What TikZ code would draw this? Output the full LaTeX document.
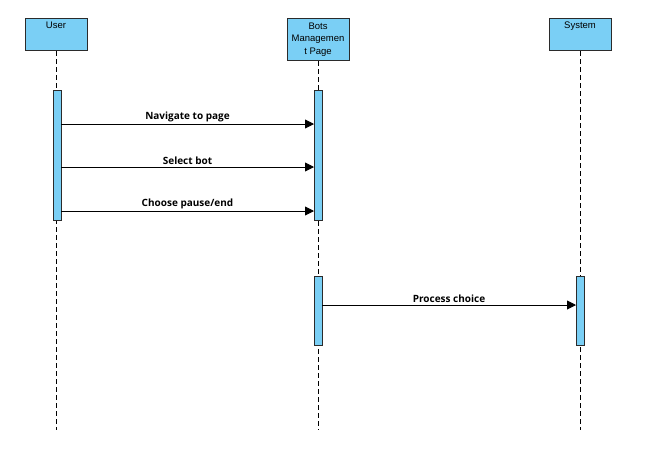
\documentclass[tikz,border=0pt]{standalone}
\usepackage{fontspec}
\setmainfont{Liberation Sans}
\newfontfamily\msgfont{Open Sans}
\usetikzlibrary{arrows.meta}
\definecolor{lifeblue}{HTML}{7ACFF5}
\definecolor{edgegray}{HTML}{2B2B2B}
\tikzset{
  actorbox/.style={draw=edgegray, fill=lifeblue, line width=1pt, minimum width=62pt,
    inner sep=1pt, align=center, font=\fontsize{9.5}{12.5}\selectfont},
  actbar/.style={draw=edgegray, fill=lifeblue, line width=0.9pt},
  lifeline/.style={draw=black, line width=0.9pt, dash pattern=on 5pt off 3pt},
  msg/.style={line width=0.9pt, -{Triangle[length=9pt,width=9pt]}},
  msglabel/.style={font=\msgfont\bfseries\fontsize{10}{12}\selectfont, above, inner sep=1.5pt}
}
\begin{document}
\begin{tikzpicture}[x=1pt, y=-1pt]
\useasboundingbox (0,0) rectangle (650,448);
% actors
\node [actorbox, minimum height=32pt, text height=8pt, text depth=20pt, anchor=north] (user) at (56,18) {User};
\node [actorbox, minimum height=42pt, anchor=north] (bots) at (318,18) {Bots\\Managemen\\t Page};
\node [actorbox, minimum height=32pt, text height=8pt, text depth=20pt, anchor=north] (system) at (580,18) {System};
\coordinate (userend) at (56,430);
\coordinate (botsend) at (318,430);
\coordinate (systemend) at (580,430);
\draw [lifeline] (user.south) -- (userend);
\draw [lifeline] (bots.south) -- (botsend);
\draw [lifeline] (system.south) -- (systemend);
% activation bars
\filldraw [actbar] (53,90) rectangle (61,220);
\filldraw [actbar] (314,90) rectangle (322,220);
\filldraw [actbar] (314,276) rectangle (322,345);
\filldraw [actbar] (576,276) rectangle (584,345);
% messages
\coordinate (nav1) at (61,124);   \coordinate (nav2) at (314,124);
\coordinate (sel1) at (61,167);   \coordinate (sel2) at (314,167);
\coordinate (cho1) at (61,211);   \coordinate (cho2) at (314,211);
\coordinate (pro1) at (322,305);  \coordinate (pro2) at (576,305);
\draw [msg] (nav1) -- node [msglabel] (navlabel) {Navigate to page} (nav2);
\draw [msg] (sel1) -- node [msglabel] (sellabel) {Select bot} (sel2);
\draw [msg] (cho1) -- node [msglabel] (cholabel) {Choose pause/end} (cho2);
\draw [msg] (pro1) -- node [msglabel] (prolabel) {Process choice} (pro2);
\end{tikzpicture}
\end{document}
